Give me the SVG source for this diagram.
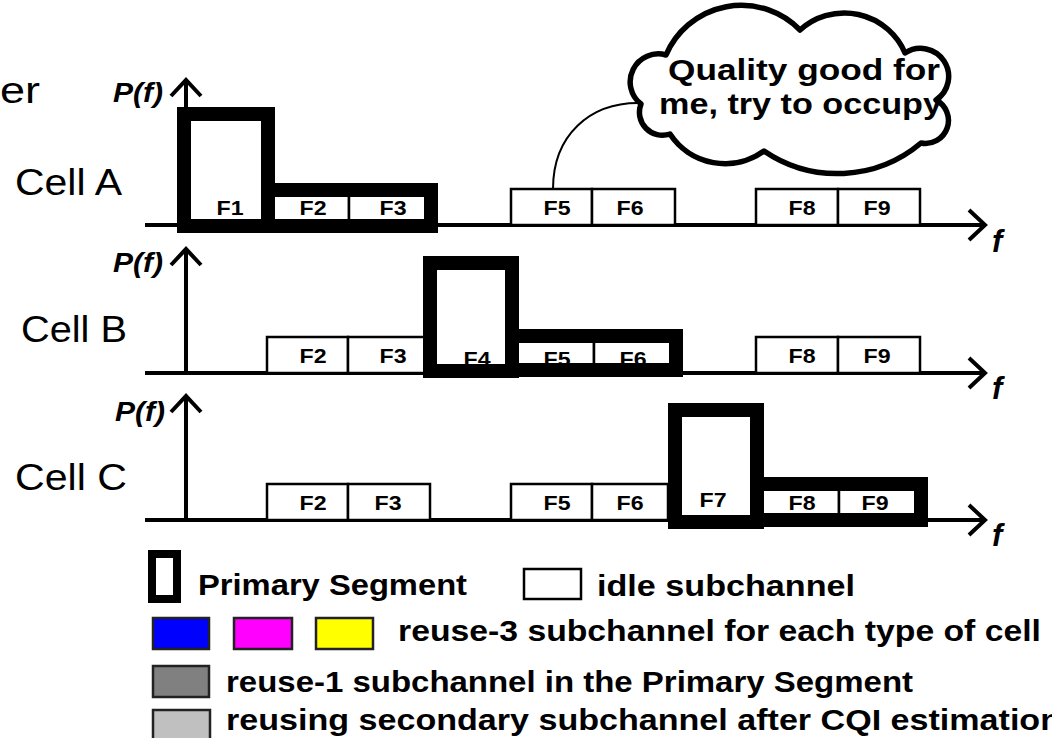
<svg xmlns="http://www.w3.org/2000/svg" width="1052" height="738" viewBox="0 0 1052 738">
<defs>
<marker id="chev" markerUnits="userSpaceOnUse" viewBox="-20 -20 40 40" markerWidth="40" markerHeight="40" refX="0" refY="0" orient="auto" overflow="visible">
<path d="M-16,-15 L0,0 L-16,15" fill="none" stroke="#000" stroke-width="4"/>
</marker>
</defs>
<style>
text{font-family:"Liberation Sans",Arial,sans-serif;fill:#000}
.big{font-size:37px}
.pf{font-size:27px;font-weight:bold;font-style:italic}
.ff{font-size:31px;font-weight:bold;font-style:italic}
.fl{font-size:21px;font-weight:bold;text-anchor:middle}
.axis{stroke:#000;stroke-width:4;fill:none}
.idle{fill:#fff;stroke:#000;stroke-width:2.5}
.prim{fill:none;stroke:#000;stroke-width:14}
.leg{font-size:29px;font-weight:bold}
.cl{font-size:29px;font-weight:bold}
.sw{stroke:#222;stroke-width:2.5}
</style>
<rect width="1052" height="738" fill="#fff"/>
<text class="big" x="0" y="103" textLength="40" lengthAdjust="spacingAndGlyphs">er</text>

<g id="cellA">
<text class="big" x="15" y="195" textLength="107" lengthAdjust="spacingAndGlyphs">Cell A</text>
<text class="pf" x="113" y="102" textLength="50" lengthAdjust="spacingAndGlyphs">P(f)</text>
<line class="axis" x1="145" y1="225" x2="985" y2="225" marker-end="url(#chev)"/>
<line class="axis" x1="186" y1="225" x2="186" y2="80" marker-end="url(#chev)"/>
<text class="ff" x="992" y="252">f</text>
<rect class="idle" x="268" y="189" width="81" height="36"/>
<rect class="idle" x="349" y="189" width="81" height="36"/>
<rect class="idle" x="511" y="189" width="81" height="36"/>
<rect class="idle" x="592" y="189" width="83" height="36"/>
<rect class="idle" x="756" y="189" width="82" height="36"/>
<rect class="idle" x="838" y="189" width="82" height="36"/>
<text class="fl" x="230" y="215" textLength="27" lengthAdjust="spacingAndGlyphs">F1</text>
<text class="fl" x="313" y="215" textLength="27" lengthAdjust="spacingAndGlyphs">F2</text>
<text class="fl" x="393" y="215" textLength="27" lengthAdjust="spacingAndGlyphs">F3</text>
<text class="fl" x="557" y="215" textLength="27" lengthAdjust="spacingAndGlyphs">F5</text>
<text class="fl" x="630" y="215" textLength="27" lengthAdjust="spacingAndGlyphs">F6</text>
<text class="fl" x="802" y="215" textLength="27" lengthAdjust="spacingAndGlyphs">F8</text>
<text class="fl" x="877" y="215" textLength="27" lengthAdjust="spacingAndGlyphs">F9</text>
<rect class="prim" x="184" y="114" width="84" height="112"/>
<rect class="prim" x="268" y="190" width="163" height="36"/>
</g>

<g id="cellB">
<text class="big" x="21" y="342" textLength="106" lengthAdjust="spacingAndGlyphs">Cell B</text>
<text class="pf" x="113" y="272" textLength="50" lengthAdjust="spacingAndGlyphs">P(f)</text>
<line class="axis" x1="145" y1="373" x2="985" y2="373" marker-end="url(#chev)"/>
<line class="axis" x1="186" y1="373" x2="186" y2="249" marker-end="url(#chev)"/>
<text class="ff" x="992" y="399">f</text>
<rect class="idle" x="267" y="337" width="81" height="36"/>
<rect class="idle" x="348" y="337" width="82" height="36"/>
<rect class="idle" x="512" y="337" width="82" height="36"/>
<rect class="idle" x="594" y="337" width="82" height="36"/>
<rect class="idle" x="756" y="337" width="82" height="36"/>
<rect class="idle" x="838" y="337" width="82" height="36"/>
<text class="fl" x="313" y="363" textLength="27" lengthAdjust="spacingAndGlyphs">F2</text>
<text class="fl" x="393" y="363" textLength="27" lengthAdjust="spacingAndGlyphs">F3</text>
<text class="fl" x="477" y="366" textLength="27" lengthAdjust="spacingAndGlyphs">F4</text>
<text class="fl" x="557" y="366" textLength="27" lengthAdjust="spacingAndGlyphs">F5</text>
<text class="fl" x="633" y="366" textLength="27" lengthAdjust="spacingAndGlyphs">F6</text>
<text class="fl" x="802" y="363" textLength="27" lengthAdjust="spacingAndGlyphs">F8</text>
<text class="fl" x="877" y="363" textLength="27" lengthAdjust="spacingAndGlyphs">F9</text>
<rect class="prim" x="430" y="263" width="82" height="108"/>
<rect class="prim" x="512" y="336" width="164" height="34"/>
</g>

<g id="cellC">
<text class="big" x="15" y="490" textLength="112" lengthAdjust="spacingAndGlyphs">Cell C</text>
<text class="pf" x="115" y="421" textLength="50" lengthAdjust="spacingAndGlyphs">P(f)</text>
<line class="axis" x1="145" y1="520" x2="985" y2="520" marker-end="url(#chev)"/>
<line class="axis" x1="186" y1="520" x2="186" y2="396" marker-end="url(#chev)"/>
<text class="ff" x="992" y="546">f</text>
<rect class="idle" x="267" y="484" width="81" height="36"/>
<rect class="idle" x="348" y="484" width="82" height="36"/>
<rect class="idle" x="511" y="484" width="81" height="36"/>
<rect class="idle" x="592" y="484" width="76" height="36"/>
<rect class="idle" x="757" y="484" width="82" height="36"/>
<rect class="idle" x="839" y="484" width="82" height="36"/>
<text class="fl" x="313" y="510" textLength="27" lengthAdjust="spacingAndGlyphs">F2</text>
<text class="fl" x="388" y="510" textLength="27" lengthAdjust="spacingAndGlyphs">F3</text>
<text class="fl" x="557" y="510" textLength="27" lengthAdjust="spacingAndGlyphs">F5</text>
<text class="fl" x="630" y="510" textLength="27" lengthAdjust="spacingAndGlyphs">F6</text>
<text class="fl" x="713" y="507" textLength="27" lengthAdjust="spacingAndGlyphs">F7</text>
<text class="fl" x="802" y="510" textLength="27" lengthAdjust="spacingAndGlyphs">F8</text>
<text class="fl" x="875" y="510" textLength="27" lengthAdjust="spacingAndGlyphs">F9</text>
<rect class="prim" x="675" y="410" width="82" height="112"/>
<rect class="prim" x="757" y="484" width="164" height="36"/>
</g>

<g id="connectors">
<path d="M553,189 C553,135 590,103 638,103" fill="none" stroke="#000" stroke-width="2"/>
</g>

<g id="cloud">
<path d="M641,104 A28,28 0 0 1 666,55 A82,82 0 0 1 800,30 A66,66 0 0 1 905,53 A27,27 0 0 1 936,100 A23,23 0 0 1 921,143 A130,130 0 0 1 764,151 A66,66 0 0 1 670,134 A23,23 0 0 1 641,104 Z" fill="#fff" stroke="#000" stroke-width="5.5" stroke-linejoin="round"/>
<text class="cl" x="668" y="80" textLength="272" lengthAdjust="spacingAndGlyphs">Quality good for</text>
<text class="cl" x="659" y="114" textLength="283" lengthAdjust="spacingAndGlyphs">me, try to occupy</text>
</g>

<g id="legend">
<rect x="152" y="554" width="25" height="45" fill="none" stroke="#000" stroke-width="8"/>
<text class="leg" x="198" y="595" textLength="269" lengthAdjust="spacingAndGlyphs">Primary Segment</text>
<rect x="524" y="569" width="57" height="30" fill="#fff" stroke="#000" stroke-width="2.5"/>
<text class="leg" x="597" y="596" textLength="258" lengthAdjust="spacingAndGlyphs">idle subchannel</text>
<rect class="sw" x="153" y="618" width="56" height="31" fill="#0000ff"/>
<rect class="sw" x="234" y="618" width="58" height="31" fill="#ff00ff"/>
<rect class="sw" x="316" y="618" width="57" height="31" fill="#ffff00"/>
<text class="leg" x="398" y="641" textLength="643" lengthAdjust="spacingAndGlyphs">reuse-3 subchannel for each type of cell</text>
<rect class="sw" x="153" y="666" width="56" height="31" fill="#808080"/>
<text class="leg" x="226" y="692" textLength="687" lengthAdjust="spacingAndGlyphs">reuse-1 subchannel in the Primary Segment</text>
<rect class="sw" x="153" y="710" width="57" height="40" fill="#c0c0c0"/>
<text class="leg" x="226" y="730" textLength="835" lengthAdjust="spacingAndGlyphs">reusing secondary subchannel after CQI estimation</text>
</g>
</svg>
